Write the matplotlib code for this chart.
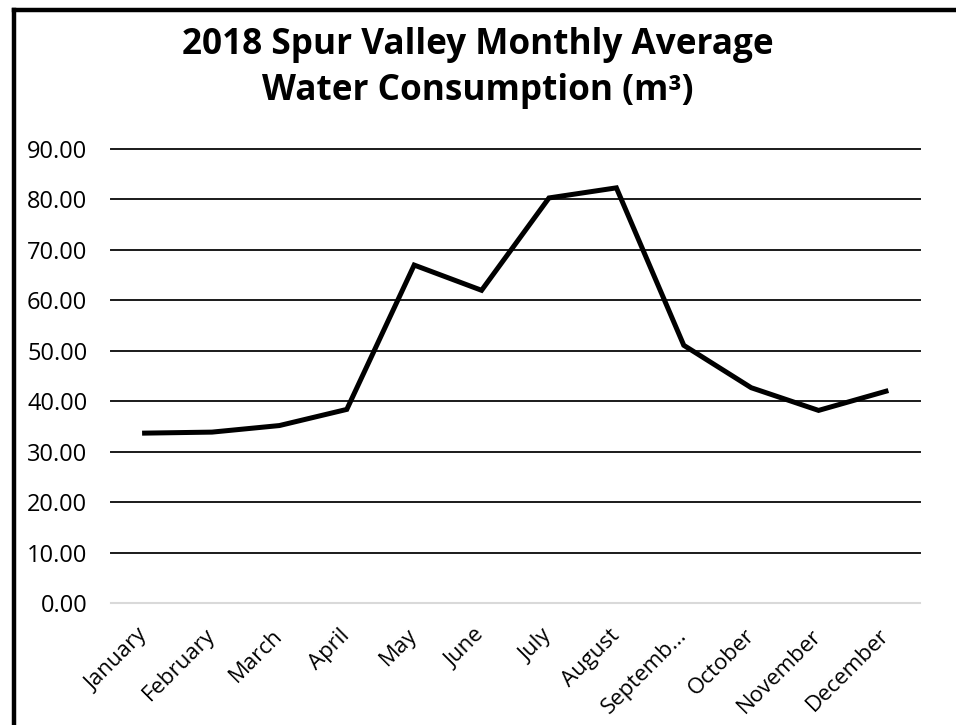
import numpy as np
import matplotlib.pyplot as plt
from matplotlib.lines import Line2D

plt.rcParams['font.family'] = ['Open Sans', 'DejaVu Sans']

# dados
months = ['January', 'February', 'March', 'April', 'May', 'June', 'July',
          'August', 'Septemb...', 'October', 'November', 'December']
consumption = [33.7, 33.9, 35.2, 38.4, 67.0, 62.0, 80.3, 82.3, 51.1, 42.7, 38.2, 42.0]
yticks = [0, 10, 20, 30, 40, 50, 60, 70, 80, 90]

fig = plt.figure(figsize=(9.56, 7.25), dpi=100)
ax = fig.add_axes([0.116, 0.168, 0.846, 0.6265])

x = np.arange(len(months))
ax.plot(x, consumption, color='black', linewidth=3.6, solid_joinstyle='miter', zorder=3)

ax.set_xlim(-0.5, len(months) - 0.5)
ax.set_ylim(0, 90)
ax.set_yticks(yticks)
ax.set_yticklabels([f'{v:.2f}' for v in yticks])
for v in yticks:
    if v == 0:
        ax.axhline(v, color='#d9d9d9', linewidth=1.5, zorder=1, clip_on=False)
    else:
        ax.axhline(v, color='#1a1a1a', linewidth=1.4, zorder=1, clip_on=False)

ax.set_xticks(x)
ax.set_xticklabels(months, rotation=45, ha='right', va='center', rotation_mode='anchor')
for s in ax.spines.values():
    s.set_visible(False)
ax.tick_params(axis='y', length=0, pad=17, labelsize=17)
ax.tick_params(axis='x', length=0, pad=21, labelsize=16)

fig.text(0.5, 0.906, '2018 Spur Valley Monthly Average\nWater Consumption (m³)',
         ha='center', va='center', fontsize=25.3, fontweight='bold', linespacing=1.36)

# moldura (so lado esquerdo e topo visiveis)
fig.add_artist(Line2D([14 / 956, 14 / 956], [0, 1 - 10 / 725], color='black',
                      linewidth=3.2, transform=fig.transFigure, solid_capstyle='projecting'))
fig.add_artist(Line2D([14 / 956, 1], [1 - 10 / 725, 1 - 10 / 725], color='black',
                      linewidth=3.2, transform=fig.transFigure, solid_capstyle='projecting'))

fig.savefig('out.png', dpi=100)
